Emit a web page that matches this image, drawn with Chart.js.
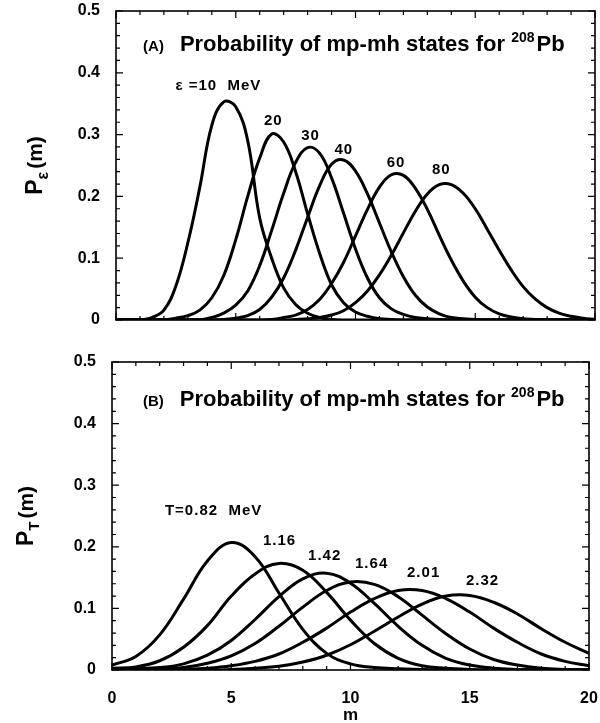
<!DOCTYPE html>
<html>
<head>
<meta charset="utf-8">
<script src="https://cdn.jsdelivr.net/npm/chart.js@4.4.1/dist/chart.umd.min.js"></script>
<style>
  body { margin: 0; background: #fff; width: 600px; height: 723px; position: relative; overflow: hidden; }
  canvas { position: absolute; left: 0; }
</style>
</head>
<body>
<canvas id="chartA" width="600" height="335" style="top:0"></canvas>
<canvas id="chartB" width="600" height="388" style="top:335px"></canvas>
<script>
// m grids
const mHalf = [0, 0.5, 1, 1.5, 2, 2.5, 3, 3.5, 4, 4.5, 5, 5.5, 6, 6.5, 7, 7.5, 8, 8.5, 9, 9.5,
  10, 10.5, 11, 11.5, 12, 12.5, 13, 13.5, 14, 14.5, 15, 15.5, 16, 16.5, 17, 17.5, 18, 18.5, 19, 19.5, 20];
const mInt = [0, 1, 2, 3, 4, 5, 6, 7, 8, 9, 10, 11, 12, 13, 14, 15, 16, 17, 18, 19, 20];

// (A) P_eps(m), sampled on mHalf
const pE10 = [0, 0, 0, 0.004, 0.016, 0.055, 0.125, 0.215, 0.315, 0.353, 0.345, 0.29, 0.165, 0.1, 0.052, 0.025, 0.011, 0.004, 0.001, 0,
  0, 0, 0, 0, 0, 0, 0, 0, 0, 0, 0, 0, 0, 0, 0, 0, 0, 0, 0, 0, 0];
const pE20 = [0, 0, 0, 0, 0, 0.003, 0.007, 0.016, 0.036, 0.072, 0.13, 0.2, 0.262, 0.301, 0.288, 0.24, 0.172, 0.108, 0.057, 0.028,
  0.013, 0.006, 0.002, 0.001, 0, 0, 0, 0, 0, 0, 0, 0, 0, 0, 0, 0, 0, 0, 0, 0, 0];
const pE30 = [0, 0, 0, 0, 0, 0, 0, 0, 0.004, 0.011, 0.024, 0.047, 0.088, 0.145, 0.205, 0.255, 0.279, 0.27, 0.23, 0.173,
  0.115, 0.068, 0.036, 0.018, 0.009, 0.004, 0.002, 0.001, 0, 0, 0, 0, 0, 0, 0, 0, 0, 0, 0, 0, 0];
const pE40 = [0, 0, 0, 0, 0, 0, 0, 0, 0, 0.001, 0.003, 0.007, 0.017, 0.037, 0.068, 0.113, 0.166, 0.217, 0.252, 0.259,
  0.241, 0.204, 0.157, 0.11, 0.07, 0.04, 0.021, 0.01, 0.004, 0.002, 0.001, 0, 0, 0, 0, 0, 0, 0, 0, 0, 0];
const pE60 = [0, 0, 0, 0, 0, 0, 0, 0, 0, 0, 0, 0, 0, 0.001, 0.004, 0.008, 0.017, 0.033, 0.059, 0.093,
  0.136, 0.179, 0.215, 0.235, 0.234, 0.213, 0.179, 0.137, 0.097, 0.063, 0.037, 0.02, 0.01, 0.005, 0.002, 0.001, 0, 0, 0, 0, 0];
const pE80 = [0, 0, 0, 0, 0, 0, 0, 0, 0, 0, 0, 0, 0, 0, 0, 0.001, 0.002, 0.004, 0.008, 0.015,
  0.028, 0.047, 0.073, 0.105, 0.141, 0.176, 0.204, 0.219, 0.219, 0.205, 0.18, 0.147, 0.113, 0.081, 0.054, 0.034, 0.02, 0.011, 0.006, 0.003, 0.001];

// (B) P_T(m), sampled on mInt
const pT082 = [0.008, 0.022, 0.057, 0.115, 0.177, 0.207, 0.184, 0.125, 0.066, 0.027, 0.01, 0.004, 0.002, 0.001, 0, 0, 0, 0, 0, 0, 0];
const pT116 = [0.003, 0.005, 0.015, 0.037, 0.072, 0.12, 0.156, 0.173, 0.162, 0.126, 0.081, 0.043, 0.019, 0.007, 0.003, 0.001, 0, 0, 0, 0, 0];
const pT142 = [0.001, 0.002, 0.004, 0.01, 0.024, 0.048, 0.082, 0.119, 0.148, 0.157, 0.141, 0.108, 0.071, 0.04, 0.019, 0.008, 0.003, 0.001, 0, 0, 0];
const pT164 = [0, 0.001, 0.002, 0.004, 0.011, 0.023, 0.043, 0.071, 0.102, 0.129, 0.143, 0.139, 0.119, 0.089, 0.059, 0.034, 0.017, 0.008, 0.003, 0.001, 0];
const pT201 = [0, 0, 0, 0.001, 0.003, 0.007, 0.014, 0.026, 0.045, 0.068, 0.094, 0.116, 0.129, 0.129, 0.116, 0.094, 0.068, 0.045, 0.026, 0.014, 0.007];
const pT232 = [0, 0, 0, 0, 0, 0.001, 0.003, 0.006, 0.013, 0.024, 0.041, 0.063, 0.086, 0.107, 0.12, 0.121, 0.11, 0.091, 0.067, 0.045, 0.027];

const curveLabelsA = ['ε =10  MeV', '20', '30', '40', '60', '80'];
const curveLabelsB = ['T=0.82  MeV', '1.16', '1.42', '1.64', '2.01', '2.32'];
const xTickValues = [0, 5, 10, 15, 20];

const FONT = '"Liberation Sans", Arial, Helvetica, sans-serif';

function measureRuns(ctx, runs) {
  let w = 0;
  for (const r of runs) {
    if (r.gap) { w += r.gap; continue; }
    ctx.font = `bold ${r.size}px ${FONT}`;
    w += ctx.measureText(r.t).width;
  }
  return w;
}

function drawRuns(ctx, x, y, runs) {
  let cx = x;
  for (const r of runs) {
    if (r.gap) { cx += r.gap; continue; }
    ctx.font = `bold ${r.size}px ${FONT}`;
    ctx.fillText(r.t, cx, y + (r.dy || 0));
    cx += ctx.measureText(r.t).width;
  }
}

// frame with inward ticks on all four sides
const frameTicks = {
  id: 'frameTicks',
  afterDatasetsDraw(chart) {
    const { ctx, chartArea: a, scales: { x, y } } = chart;
    ctx.save();
    ctx.strokeStyle = '#000';
    ctx.lineWidth = 1.6;
    ctx.strokeRect(a.left, a.top, a.right - a.left, a.bottom - a.top);
    ctx.lineWidth = 1.2;
    ctx.beginPath();
    for (let i = 0; i <= 20; i++) {
      const px = x.getPixelForValue(i);
      const len = i % 5 === 0 ? 7 : 4;
      ctx.moveTo(px, a.bottom); ctx.lineTo(px, a.bottom - len);
      ctx.moveTo(px, a.top); ctx.lineTo(px, a.top + len);
    }
    for (let k = 0; k <= 25; k++) {
      const py = y.getPixelForValue(k * 0.02);
      const len = k % 5 === 0 ? 7 : 4;
      ctx.moveTo(a.left, py); ctx.lineTo(a.left + len, py);
      ctx.moveTo(a.right, py); ctx.lineTo(a.right - len, py);
    }
    ctx.stroke();
    ctx.restore();
  }
};

// panel title, curve labels, axis titles
const panelText = {
  id: 'panelText',
  afterDraw(chart, args, opts) {
    const { ctx, chartArea: a, scales: { x, y } } = chart;
    ctx.save();
    ctx.fillStyle = '#000';
    ctx.textAlign = 'left';
    ctx.textBaseline = 'alphabetic';
    drawRuns(ctx, x.getPixelForValue(opts.titlePos[0]), y.getPixelForValue(opts.titlePos[1]), opts.title);

    ctx.letterSpacing = '1px';
    opts.labels.forEach((txt, i) => {
      const p = opts.labelPos[i];
      drawRuns(ctx, x.getPixelForValue(p[0]), y.getPixelForValue(p[1]), [{ t: txt, size: 15 }]);
    });
    ctx.letterSpacing = '0px';

    if (opts.xTitle) {
      ctx.textAlign = 'center';
      ctx.font = `bold 17px ${FONT}`;
      ctx.fillText(opts.xTitle, x.getPixelForValue(10), a.bottom + 50);
      ctx.textAlign = 'left';
    }

    const w = measureRuns(ctx, opts.yTitle);
    ctx.translate(opts.yTitleX, (a.top + a.bottom) / 2);
    ctx.rotate(-Math.PI / 2);
    drawRuns(ctx, -w / 2, 0, opts.yTitle);
    ctx.restore();
  }
};

function lineSet(xs, ys) {
  return {
    data: xs.map((m, i) => ({ x: m, y: ys[i] })),
    borderColor: '#000',
    borderWidth: 3,
    pointRadius: 0,
    fill: false,
    tension: 0.4
  };
}

// fixed axis box sizes, no label overflow padding
function fixBox(s, w, h) {
  if (w !== null) s.width = w;
  if (h !== null) s.height = h;
  s.paddingTop = 0;
  s.paddingBottom = 0;
  s.paddingLeft = 0;
  s.paddingRight = 0;
}

function panelOptions(cfg) {
  return {
    responsive: false,
    animation: false,
    layout: { padding: cfg.padding },
    plugins: {
      legend: { display: false },
      tooltip: { enabled: false },
      panelText: cfg.text
    },
    scales: {
      x: {
        type: 'linear',
        min: 0,
        max: 20,
        grid: { display: false, drawTicks: false },
        border: { display: false },
        afterBuildTicks: (s) => { s.ticks = xTickValues.map((v) => ({ value: v })); },
        afterFit: (s) => fixBox(s, null, cfg.xHeight),
        ticks: {
          display: cfg.showX,
          padding: 19,
          color: '#000',
          font: { family: FONT, size: 16, weight: 'bold' }
        }
      },
      y: {
        min: 0,
        max: 0.5,
        grid: { display: false, drawTicks: false },
        border: { display: false },
        afterFit: (s) => fixBox(s, cfg.yWidth, null),
        ticks: {
          stepSize: 0.1,
          padding: 16,
          color: '#000',
          font: { family: FONT, size: 16, weight: 'bold' }
        }
      }
    }
  };
}

new Chart(document.getElementById('chartA'), {
  type: 'line',
  data: {
    datasets: [pE10, pE20, pE30, pE40, pE60, pE80].map((ys) => lineSet(mHalf, ys))
  },
  options: panelOptions({
    padding: { top: 11, right: 5, left: 0, bottom: 0 },
    xHeight: 15,
    yWidth: 116,
    showX: false,
    text: {
      title: [{ t: '(A)', size: 15 }, { gap: 16 }, { t: 'Probability of mp-mh states for ', size: 22 },
        { t: '208', size: 14, dy: -9 }, { gap: 2 }, { t: 'Pb', size: 22 }],
      titlePos: [1.13, 0.435],
      labels: curveLabelsA,
      labelPos: [[2.48, 0.372], [6.18, 0.316], [7.73, 0.291], [9.12, 0.269], [11.3, 0.248], [13.19, 0.236]],
      yTitle: [{ t: 'P', size: 23 }, { t: 'ε', size: 16, dy: 6 }, { gap: 3 }, { t: '(m)', size: 21 }],
      yTitleX: 42
    }
  }),
  plugins: [frameTicks, panelText]
});

new Chart(document.getElementById('chartB'), {
  type: 'line',
  data: {
    datasets: [pT082, pT116, pT142, pT164, pT201, pT232].map((ys) => lineSet(mInt, ys))
  },
  options: panelOptions({
    padding: { top: 27, right: 11, left: 0, bottom: 0 },
    xHeight: 53,
    yWidth: 112,
    showX: true,
    text: {
      title: [{ t: '(B)', size: 15 }, { gap: 16 }, { t: 'Probability of mp-mh states for ', size: 22 },
        { t: '208', size: 14, dy: -9 }, { gap: 2 }, { t: 'Pb', size: 22 }],
      titlePos: [1.3, 0.429],
      labels: curveLabelsB,
      labelPos: [[2.22, 0.252], [6.33, 0.203], [8.22, 0.179], [10.19, 0.166], [12.37, 0.151], [14.84, 0.138]],
      xTitle: 'm',
      yTitle: [{ t: 'P', size: 23 }, { t: 'T', size: 15, dy: 6 }, { gap: 3 }, { t: '(m)', size: 21 }],
      yTitleX: 33
    }
  }),
  plugins: [frameTicks, panelText]
});
</script>
</body>
</html>
